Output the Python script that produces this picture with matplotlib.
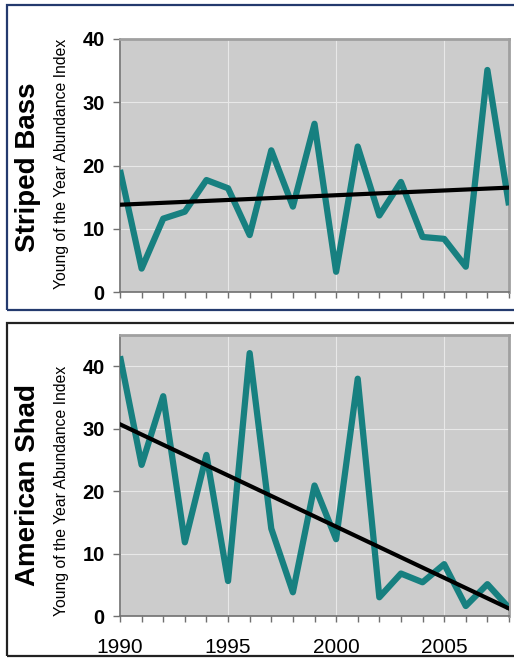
import numpy as np
import matplotlib.pyplot as plt
from matplotlib.patches import Rectangle
from matplotlib.ticker import MultipleLocator

plt.rcParams['font.family'] = ['Liberation Sans', 'DejaVu Sans']

years = list(range(1990, 2009))

# Striped bass young-of-year index
bass = [19.3, 3.7, 11.6, 12.7, 17.7, 16.4, 9.0, 22.4, 13.5, 26.6,
        3.2, 23.0, 12.1, 17.4, 8.7, 8.4, 4.0, 35.1, 13.7]
bass_trend = [13.8, 16.5]  # at 1990 and 2008

# American shad young-of-year index
shad = [41.6, 24.2, 35.2, 11.8, 25.8, 5.6, 42.1, 14.0, 3.8, 20.9,
        12.3, 38.0, 3.0, 6.8, 5.4, 8.3, 1.6, 5.1, 1.3]
shad_trend = [30.7, 1.2]

trend_years = [1990, 2008]
panel_titles = ['Striped Bass', 'American Shad']
ylabel = 'Young of the Year Abundance Index'

W, H = 514, 658
fig = plt.figure(figsize=(W / 100, H / 100), dpi=100)
fig.patch.set_facecolor('white')


def px_axes(left, top, right, bottom):
    return fig.add_axes([left / W, 1 - bottom / H, (right - left) / W, (bottom - top) / H])


def draw_panel(ax, values, trend, ymax, show_xlabels):
    ax.set_facecolor('#cccccc')
    ax.plot(years, values, color='#178080', lw=4.5, solid_joinstyle='round',
            solid_capstyle='butt', zorder=3)
    ax.plot(trend_years, trend, color='black', lw=3, zorder=4)
    ax.set_xlim(1990, 2008)
    ax.set_ylim(0, ymax)
    ax.xaxis.set_major_locator(MultipleLocator(5))
    ax.xaxis.set_minor_locator(MultipleLocator(1))
    ax.yaxis.set_major_locator(MultipleLocator(10))
    ax.grid(True, which='major', color='#e8e8e8', lw=0.8, zorder=1)
    ax.set_axisbelow(True)
    for s in ['top', 'right']:
        ax.spines[s].set_color('#a0a0a0')
        ax.spines[s].set_linewidth(2)
    for s in ['left', 'bottom']:
        ax.spines[s].set_color('#707070')
        ax.spines[s].set_linewidth(1.2)
    ax.tick_params(axis='y', length=5, width=1, color='#707070', pad=6)
    ax.tick_params(axis='x', which='both', length=4, width=1, color='#707070', pad=12)
    for lab in ax.get_yticklabels():
        lab.set_fontweight('bold')
        lab.set_fontsize(14.5)
    if show_xlabels:
        for lab in ax.get_xticklabels():
            lab.set_fontsize(15)
    else:
        ax.set_xticklabels([])


ax1 = px_axes(120, 39, 509, 292)
draw_panel(ax1, bass, bass_trend, 40, False)
ax2 = px_axes(120, 335, 509, 616)
draw_panel(ax2, shad, shad_trend, 45, True)

for title, ty, ly in [(panel_titles[0], 167, 164), (panel_titles[1], 485, 491)]:
    fig.text(28 / W, 1 - ty / H, title, rotation=90, fontsize=20,
             fontweight='bold', ha='center', va='center')
    fig.text(62 / W, 1 - ly / H, ylabel, rotation=90, fontsize=11.3,
             ha='center', va='center')

# outer boxes round each panel
fig.patches.append(Rectangle((7 / W, 1 - 310 / H), 520 / W, 305 / H, transform=fig.transFigure,
                             fill=False, edgecolor='#243a6e', lw=1.6))
fig.patches.append(Rectangle((7 / W, 1 - 655.5 / H), 520 / W, 332.5 / H, transform=fig.transFigure,
                             fill=False, edgecolor='#222222', lw=1.6))

fig.savefig('out.png', dpi=100)
